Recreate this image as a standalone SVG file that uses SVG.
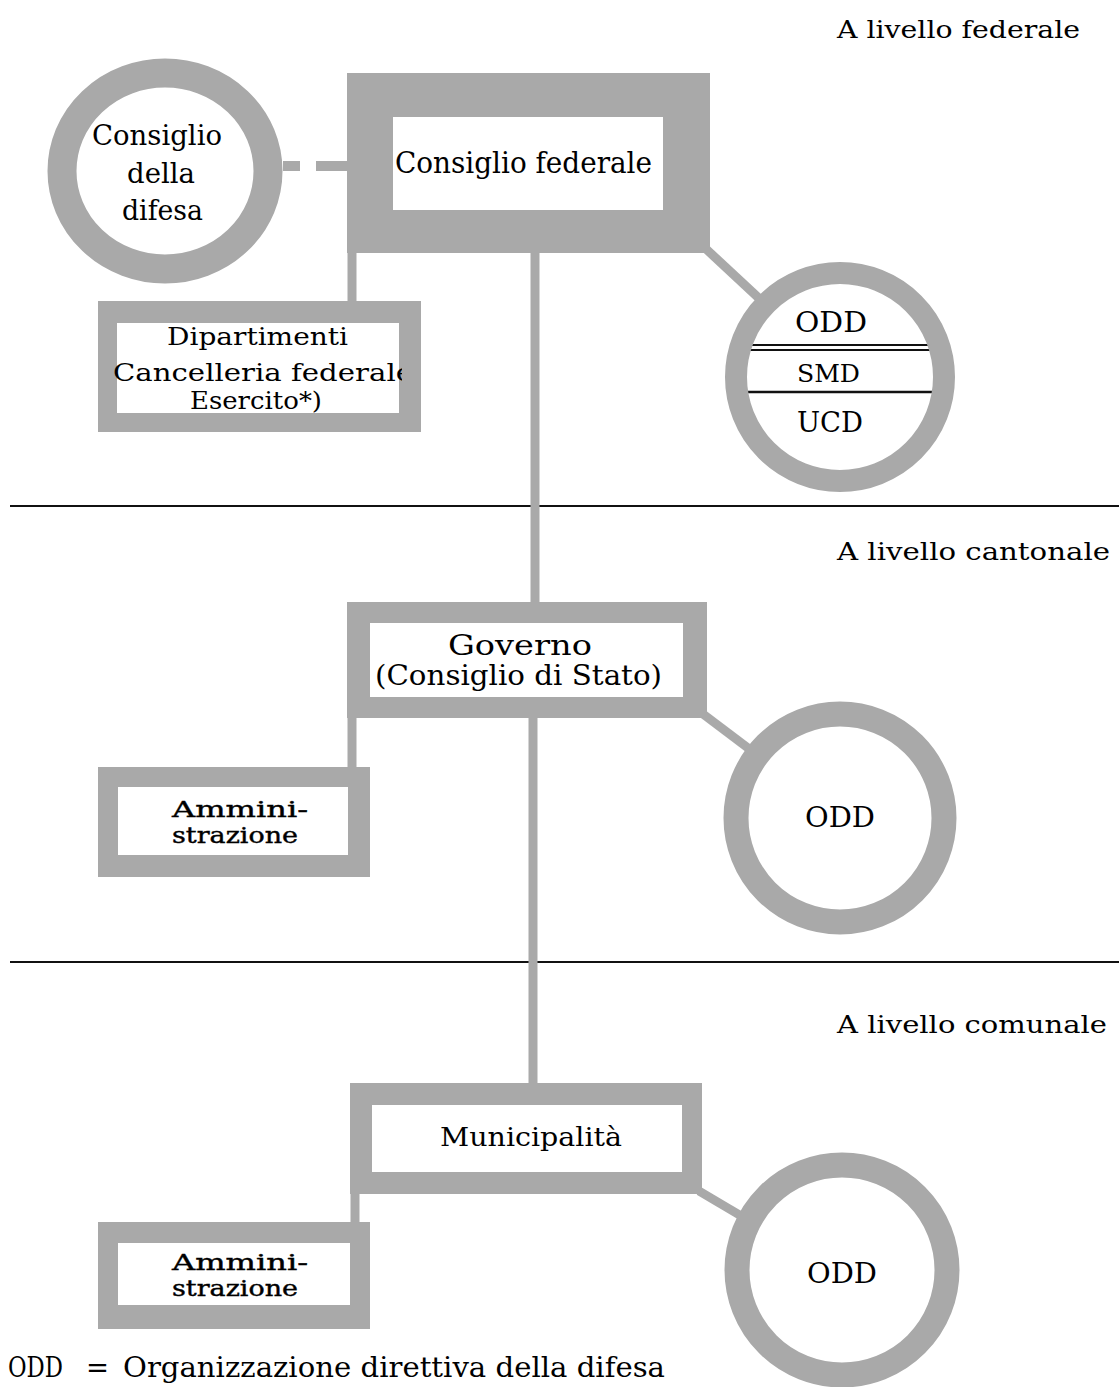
<svg xmlns="http://www.w3.org/2000/svg" width="1119" height="1387" viewBox="0 0 1119 1387">
<style>
.t{font-family:"DejaVu Serif","Liberation Serif",serif;fill:#000}
.b{stroke:#000;stroke-width:0.4}
.lvl{font-size:25px}
.g{fill:#a9a9a9}
.w{fill:#fff}
.ring{fill:none;stroke:#a9a9a9}
.con{stroke:#a9a9a9;fill:none}
.sep{stroke:#111;stroke-width:2}
.rule{stroke:#111;fill:none}
</style>
<rect width="1119" height="1387" fill="#fff"/>
<text class="t lvl" x="837" y="38" textLength="243" lengthAdjust="spacingAndGlyphs">A livello federale</text>
<text class="t lvl" x="837" y="560" textLength="273" lengthAdjust="spacingAndGlyphs">A livello cantonale</text>
<text class="t lvl" x="837" y="1033" textLength="270" lengthAdjust="spacingAndGlyphs">A livello comunale</text>
<line class="sep" x1="10" y1="506" x2="1119" y2="506"/>
<line class="sep" x1="10" y1="962" x2="1119" y2="962"/>
<g id="connectors">
<line class="con" stroke-width="10" x1="283" y1="166" x2="300" y2="166"/>
<line class="con" stroke-width="10" x1="316" y1="166" x2="349" y2="166"/>
<line class="con" stroke-width="9" x1="352" y1="250" x2="352" y2="304"/>
<line class="con" stroke-width="9" x1="535" y1="250" x2="535" y2="605"/>
<line class="con" stroke-width="9" x1="705" y1="248" x2="764" y2="303"/>
<line class="con" stroke-width="9" x1="352" y1="715" x2="352" y2="770"/>
<line class="con" stroke-width="9" x1="533" y1="715" x2="533" y2="1086"/>
<line class="con" stroke-width="9" x1="703" y1="714" x2="752" y2="751"/>
<line class="con" stroke-width="9" x1="355" y1="1192" x2="355" y2="1225"/>
<line class="con" stroke-width="9" x1="699" y1="1191" x2="748" y2="1220"/>
</g>
<g id="consiglio-difesa">
<ellipse cx="165" cy="171" rx="103" ry="98" fill="#fff"/>
<ellipse class="ring" cx="165" cy="171" rx="103" ry="98" stroke-width="29"/>
<text class="t" font-size="27" x="92" y="145" textLength="130" lengthAdjust="spacingAndGlyphs">Consiglio</text>
<text class="t" font-size="27" x="127" y="183" textLength="68" lengthAdjust="spacingAndGlyphs">della</text>
<text class="t" font-size="27" x="122" y="220" textLength="81" lengthAdjust="spacingAndGlyphs">difesa</text>
</g>
<g id="consiglio-federale">
<rect class="g" x="347" y="73" width="363" height="180"/>
<rect class="w" x="393" y="117" width="270" height="93"/>
<text class="t" font-size="29" x="395" y="173" textLength="257" lengthAdjust="spacingAndGlyphs">Consiglio federale</text>
</g>
<g id="dipartimenti">
<rect class="g" x="98" y="301" width="323" height="131"/>
<rect class="w" x="117" y="323" width="282" height="90"/>
<text class="t" font-size="25" x="167" y="345" textLength="181" lengthAdjust="spacingAndGlyphs">Dipartimenti</text>
<text class="t" font-size="25" x="113" y="381" textLength="300" lengthAdjust="spacingAndGlyphs">Cancelleria federale</text>
<text class="t" font-size="25" x="190" y="409" textLength="132" lengthAdjust="spacingAndGlyphs">Esercito*)</text>
<rect class="g" x="402" y="323" width="19" height="90"/>
</g>
<g id="odd-federale">
<circle cx="840" cy="377" r="104" fill="#fff"/>
<line class="rule" x1="740" y1="345" x2="940" y2="345" stroke-width="2"/>
<line class="rule" x1="740" y1="350" x2="940" y2="350" stroke-width="2"/>
<line class="rule" x1="740" y1="392" x2="940" y2="392" stroke-width="2.5"/>
<circle class="ring" cx="840" cy="377" r="104" stroke-width="22"/>
<text class="t" font-size="27" x="795" y="332" textLength="72" lengthAdjust="spacingAndGlyphs">ODD</text>
<text class="t" font-size="25" x="797" y="382" textLength="63" lengthAdjust="spacingAndGlyphs">SMD</text>
<text class="t" font-size="27" x="797" y="432" textLength="66" lengthAdjust="spacingAndGlyphs">UCD</text>
</g>
<g id="governo">
<rect class="g" x="347" y="602" width="360" height="116"/>
<rect class="w" x="370" y="623" width="313" height="74"/>
<text class="t" font-size="27" x="448" y="655" textLength="144" lengthAdjust="spacingAndGlyphs">Governo</text>
<text class="t" font-size="27" x="375" y="685" textLength="287" lengthAdjust="spacingAndGlyphs">(Consiglio di Stato)</text>
</g>
<g id="amministrazione-cantonale">
<rect class="g" x="98" y="767" width="272" height="110"/>
<rect class="w" x="118" y="787" width="230" height="68"/>
<text class="t b" font-size="22" x="172" y="817" textLength="136" lengthAdjust="spacingAndGlyphs">Ammini-</text>
<text class="t b" font-size="22" x="172" y="843" textLength="126" lengthAdjust="spacingAndGlyphs">strazione</text>
</g>
<g id="odd-cantonale">
<circle cx="840" cy="818" r="104" fill="#fff"/>
<circle class="ring" cx="840" cy="818" r="104" stroke-width="25"/>
<text class="t" font-size="27" x="805" y="827" textLength="70" lengthAdjust="spacingAndGlyphs">ODD</text>
</g>
<g id="municipalita">
<rect class="g" x="350" y="1083" width="352" height="111"/>
<rect class="w" x="372" y="1105" width="310" height="67"/>
<text class="t" font-size="26" x="440" y="1146" textLength="182" lengthAdjust="spacingAndGlyphs">Municipalità</text>
</g>
<g id="amministrazione-comunale">
<rect class="g" x="98" y="1222" width="272" height="107"/>
<rect class="w" x="118" y="1243" width="232" height="62"/>
<text class="t b" font-size="22" x="172" y="1270" textLength="136" lengthAdjust="spacingAndGlyphs">Ammini-</text>
<text class="t b" font-size="22" x="172" y="1296" textLength="126" lengthAdjust="spacingAndGlyphs">strazione</text>
</g>
<g id="odd-comunale">
<circle cx="842" cy="1270" r="105" fill="#fff"/>
<circle class="ring" cx="842" cy="1270" r="105" stroke-width="25"/>
<text class="t" font-size="27" x="807" y="1283" textLength="70" lengthAdjust="spacingAndGlyphs">ODD</text>
</g>
<g id="legenda">
<text class="t" font-size="27" x="8" y="1377" textLength="55" lengthAdjust="spacingAndGlyphs">ODD</text>
<text class="t" font-size="27" x="86" y="1377" textLength="23" lengthAdjust="spacingAndGlyphs">=</text>
<text class="t" font-size="27" x="123" y="1377" textLength="542" lengthAdjust="spacingAndGlyphs">Organizzazione direttiva della difesa</text>
</g>
</svg>
